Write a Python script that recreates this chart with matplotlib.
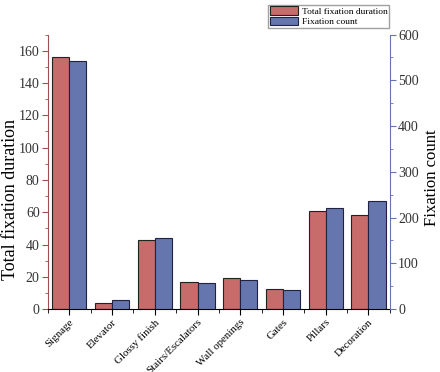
import matplotlib.pyplot as plt
import matplotlib.transforms as mtransforms
import numpy as np
from matplotlib.ticker import MultipleLocator

plt.rcParams['font.family'] = ['Liberation Serif', 'DejaVu Serif']

categories = ['Signage', 'Elevator', 'Glossy finish', 'Stairs/Escalators',
              'Wall openings', 'Gates', 'Pillars', 'Decoration']
duration = [156, 3.9, 42.7, 16.5, 19.4, 12.4, 60.7, 58]
count = [543, 21, 155, 58, 63, 42, 221, 236]

red = '#C76B6B'
blue = '#6476AD'

fig = plt.figure(figsize=(4.4, 3.72), dpi=100)
ax = fig.add_axes([0.109, 0.169, 0.777, 0.738])
ax2 = ax.twinx()

x = np.arange(len(categories))
w = 0.4
b1 = ax.bar(x - w / 2, duration, w, color=red, edgecolor='#222222', linewidth=0.8,
            label='Total fixation duration')
b2 = ax2.bar(x + w / 2, count, w, color=blue, edgecolor='#222244', linewidth=0.8,
             label='Fixation count')

ax.set_xlim(-0.5, 7.5)
ax.set_ylim(0, 170)
ax2.set_ylim(0, 600)

ax.yaxis.set_major_locator(MultipleLocator(20))
ax.yaxis.set_minor_locator(MultipleLocator(10))
ax2.yaxis.set_major_locator(MultipleLocator(100))
ax2.yaxis.set_minor_locator(MultipleLocator(50))

ax.set_xticks(x)
ax.set_xticklabels(categories, rotation=45, ha='right', rotation_mode='anchor', fontsize=7.8)
ax.set_xticks(np.arange(-0.5, 8, 1), minor=True)
# shift rotated labels a little to the right, as in the original
offset = mtransforms.ScaledTranslation(7 / 72, 1 / 72, fig.dpi_scale_trans)
for lbl in ax.get_xticklabels():
    lbl.set_transform(lbl.get_transform() + offset)

for a in (ax, ax2):
    a.spines['top'].set_visible(False)
ax.spines['left'].set_color('#A05050')
ax2.spines['left'].set_visible(False)
ax.spines['right'].set_visible(False)
ax2.spines['right'].set_color('#6476AD')
ax2.spines['bottom'].set_visible(False)

ax.tick_params(axis='y', which='both', colors='#A05050', labelcolor='#333333', labelsize=10, pad=2)
ax.tick_params(axis='y', which='major', length=4)
ax.tick_params(axis='y', which='minor', length=2)
ax2.tick_params(axis='y', which='both', colors='#6476AD', labelcolor='#333333', labelsize=10, pad=2)
ax2.tick_params(axis='y', which='major', length=4)
ax2.tick_params(axis='y', which='minor', length=2)
ax.tick_params(axis='x', which='major', length=4, pad=2)
ax.tick_params(axis='x', which='minor', length=3)

ax.set_ylabel('Total fixation duration', fontsize=13)
ax.yaxis.set_label_coords(-0.085, 0.40)
ax2.set_ylabel('Fixation count', fontsize=12, rotation=90)
ax2.yaxis.set_label_coords(1.1, 0.477)

leg = fig.legend(handles=[b1, b2], loc='upper right', bbox_to_anchor=(0.886, 0.99),
                 fontsize=6.8, frameon=True, fancybox=False, edgecolor='#888888',
                 handlelength=3.0, handleheight=1.0, borderpad=0.15, labelspacing=0.15,
                 handletextpad=0.4, borderaxespad=0.1)

fig.savefig('out.png', dpi=100)
